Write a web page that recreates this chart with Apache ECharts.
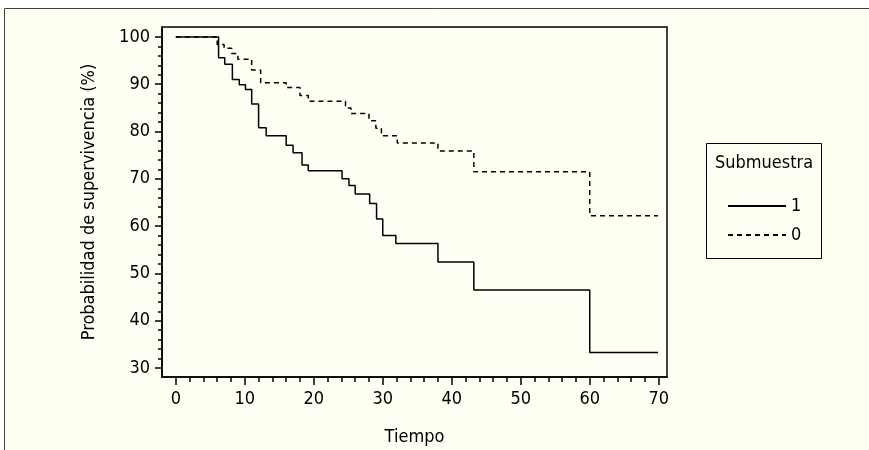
<!DOCTYPE html>
<html>
<head>
<meta charset="utf-8">
<script src="https://cdn.jsdelivr.net/npm/echarts@6/dist/echarts.min.js"></script>
<style>
html, body { margin: 0; padding: 0; background: #fff; }
#chart { width: 869px; height: 450px; }
</style>
</head>
<body>
<div id="chart"></div>
<script>
// Kaplan-Meier: tiempo de cada escalón y supervivencia (%) a partir de él
const group1Time = [0, 6.2, 7.1, 8.2, 9.2, 10.1, 11.0, 12.0, 13.1, 16.0, 17.0, 18.3, 19.2, 24.1, 25.1, 26.0, 28.1, 29.1, 30.0, 31.9, 38.0, 43.2, 60.0, 69.9];
const group1Surv = [100, 95.6, 94.2, 91.0, 89.9, 88.9, 85.8, 80.8, 79.1, 77.1, 75.5, 72.9, 71.7, 70.0, 68.6, 66.8, 64.8, 61.5, 58.0, 56.3, 52.4, 46.5, 33.3, 33.3];

const group0Time = [0, 6.0, 7.0, 8.1, 9.0, 11.0, 12.3, 16.0, 18.0, 19.2, 24.6, 25.4, 28.0, 29.0, 29.8, 32.1, 38.0, 43.2, 60.0, 69.9];
const group0Surv = [100, 98.4, 97.6, 96.5, 95.3, 93.0, 90.3, 89.3, 87.6, 86.4, 85.0, 83.8, 82.3, 80.7, 79.1, 77.6, 75.9, 71.5, 62.2, 62.2];

const seriesNames = ['1', '0'];

const xMajorTicks = [0, 10, 20, 30, 40, 50, 60, 70];
const xMinorTicks = [2, 4, 6, 8, 12, 14, 16, 18, 22, 24, 26, 28, 32, 34, 36, 38, 42, 44, 46, 48, 52, 54, 56, 58, 62, 64, 66, 68];
const yMajorTicks = [30, 40, 50, 60, 70, 80, 90, 100];
const yMinorTicks = [32, 34, 36, 38, 42, 44, 46, 48, 52, 54, 56, 58, 62, 64, 66, 68, 72, 74, 76, 78, 82, 84, 86, 88, 92, 94, 96, 98];

const font = "'DejaVu Sans Condensed', 'Liberation Sans', sans-serif";
const fontSize = 18;
const black = '#000';

const chart = echarts.init(document.getElementById('chart'));

const option = {
    animation: false,
    backgroundColor: '#fff',
    graphic: [
        {
            // marco de la figura
            type: 'rect', z: -10, silent: true,
            shape: { x: 4.5, y: 8.5, width: 900, height: 500 },
            style: { fill: '#fffff4', stroke: '#444', lineWidth: 1 },
        },
        {
            // caja de la leyenda
            type: 'rect', silent: true,
            shape: { x: 706.5, y: 143.5, width: 115, height: 115 },
            style: { fill: 'transparent', stroke: black, lineWidth: 1 },
        },
        {
            type: 'text', silent: true, x: 764, y: 163,
            style: { text: 'Submuestra', fill: black, font: fontSize + 'px ' + font, align: 'center', verticalAlign: 'middle' },
        },
    ],
    grid: {
        left: 162, top: 27, width: 505, height: 350,
        outerBoundsMode: 'none', containLabel: false,
        show: true, borderColor: black, borderWidth: 1.5, backgroundColor: 'transparent',
    },
    legend: {
        data: seriesNames,
        orient: 'vertical',
        left: 722, top: 192,
        itemWidth: 58, itemHeight: 14, itemGap: 11,
        itemStyle: { color: 'transparent', borderWidth: 0, opacity: 0 },
        textStyle: { color: black, fontFamily: font, fontSize: fontSize },
    },
    xAxis: [
        {
            type: 'value', min: -2, max: 71.2, position: 'bottom',
            axisLine: { show: true, onZero: false, lineStyle: { color: black, width: 1.5 } },
            axisTick: { show: true, customValues: xMajorTicks, length: 8, lineStyle: { color: black, width: 1.5 } },
            axisLabel: { customValues: xMajorTicks, margin: 13, color: black, fontFamily: font, fontSize: fontSize },
            splitLine: { show: false },
            name: 'Tiempo', nameLocation: 'middle', nameGap: 51,
            nameTextStyle: { color: black, fontFamily: font, fontSize: fontSize },
        },
        {
            // marcas menores
            type: 'value', min: -2, max: 71.2, position: 'bottom',
            axisLine: { show: false, onZero: false },
            axisTick: { show: true, customValues: xMinorTicks, length: 5, lineStyle: { color: black, width: 1.5 } },
            axisLabel: { show: false },
            splitLine: { show: false },
        },
    ],
    yAxis: [
        {
            type: 'value', min: 28.1, max: 102.1, position: 'left',
            axisLine: { show: true, onZero: false, lineStyle: { color: black, width: 1.5 } },
            axisTick: { show: true, customValues: yMajorTicks, length: 7, lineStyle: { color: black, width: 1.5 } },
            axisLabel: { customValues: yMajorTicks, margin: 12, color: black, fontFamily: font, fontSize: fontSize },
            splitLine: { show: false },
            name: 'Probabilidad de supervivencia (%)', nameLocation: 'middle', nameGap: 64, nameRotate: 90,
            nameTextStyle: { color: black, fontFamily: font, fontSize: fontSize },
        },
        {
            // marcas menores
            type: 'value', min: 28.1, max: 102.1, position: 'left',
            axisLine: { show: false, onZero: false },
            axisTick: { show: true, customValues: yMinorTicks, length: 4, lineStyle: { color: black, width: 1.5 } },
            axisLabel: { show: false },
            splitLine: { show: false },
        },
    ],
    series: [
        {
            name: seriesNames[0], type: 'line', step: 'end', symbol: 'none',
            xAxisIndex: 0, yAxisIndex: 0,
            lineStyle: { color: black, width: 1.5, type: 'solid' },
            itemStyle: { color: black },
            data: group1Time.map((t, i) => [t, group1Surv[i]]),
        },
        {
            name: seriesNames[1], type: 'line', step: 'end', symbol: 'none',
            xAxisIndex: 0, yAxisIndex: 0,
            lineStyle: { color: black, width: 1.5, type: [5, 4] },
            itemStyle: { color: black },
            data: group0Time.map((t, i) => [t, group0Surv[i]]),
        },
    ],
};

chart.setOption(option);
</script>
</body>
</html>
